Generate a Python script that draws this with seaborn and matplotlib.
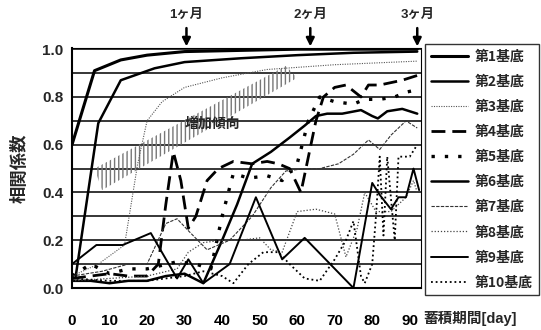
import numpy as np
import pandas as pd
import matplotlib
matplotlib.use("Agg")
import matplotlib.pyplot as plt
import seaborn as sns
from matplotlib.patches import Polygon

# correlation coefficient vs. accumulation period, per base
labels = ["第1基底", "第2基底", "第3基底", "第4基底", "第5基底",
          "第6基底", "第7基底", "第8基底", "第9基底", "第10基底"]

s1_days = [0, 6, 13, 20, 30, 45, 60, 75, 92]
s1_vals = [0.60, 0.91, 0.955, 0.975, 0.99, 0.995, 1.0, 1.0, 1.0]

s2_days = [1, 7, 13, 22, 30, 45, 60, 75, 92]
s2_vals = [0.05, 0.69, 0.87, 0.92, 0.946, 0.962, 0.975, 0.985, 0.99]

s3_days = [0, 7, 14, 17.5, 20, 24, 30, 40, 52, 70, 92]
s3_vals = [0.05, 0.10, 0.18, 0.52, 0.70, 0.78, 0.84, 0.88, 0.915, 0.935, 0.95]

s4_days = [0, 5, 10, 15, 20, 23, 25, 27, 29, 31, 33, 36, 39, 43, 48, 52, 55, 58, 61,
           63, 65, 67, 70, 73, 77, 79, 82, 85, 88, 92]
s4_vals = [0.04, 0.05, 0.06, 0.05, 0.05, 0.10, 0.35, 0.57, 0.45, 0.25, 0.30, 0.45, 0.50,
           0.53, 0.52, 0.53, 0.52, 0.50, 0.40, 0.55, 0.70, 0.80, 0.84, 0.85, 0.80, 0.85,
           0.85, 0.86, 0.87, 0.89]

s5_days = [0, 5, 10, 15, 20, 28, 33, 37, 40, 43, 47, 52, 56, 60, 63, 66, 70, 75, 78,
           82, 86, 89, 92]
s5_vals = [0.05, 0.10, 0.06, 0.08, 0.08, 0.11, 0.10, 0.08, 0.30, 0.48, 0.46, 0.47, 0.45,
           0.52, 0.70, 0.80, 0.78, 0.77, 0.79, 0.79, 0.80, 0.82, 0.83]

s6_days = [0, 5, 10, 15, 20, 25, 30, 35, 40, 44, 48, 53, 58, 62, 65, 68, 72, 77, 80,
           81.5, 84, 88, 92]
s6_vals = [0.03, 0.03, 0.02, 0.03, 0.03, 0.05, 0.06, 0.02, 0.20, 0.35, 0.52, 0.57, 0.63,
           0.68, 0.72, 0.73, 0.73, 0.745, 0.72, 0.71, 0.74, 0.75, 0.73]

s7_days = [0, 8, 15, 20, 25, 28, 31, 36, 42, 48, 53, 57, 62, 66, 71, 75, 79, 82, 85,
           89, 92]
s7_vals = [0.05, 0.07, 0.10, 0.10, 0.27, 0.29, 0.24, 0.16, 0.20, 0.30, 0.42, 0.49, 0.50,
           0.50, 0.52, 0.56, 0.62, 0.58, 0.64, 0.70, 0.67]

s8_days = [0, 10, 20, 28, 31, 35, 40, 45, 50, 53, 56, 60, 65, 70, 73, 76, 78, 81, 85,
           89, 91, 92]
s8_vals = [0.03, 0.04, 0.05, 0.08, 0.15, 0.19, 0.20, 0.20, 0.21, 0.16, 0.15, 0.32, 0.33,
           0.31, 0.13, 0.25, 0.40, 0.32, 0.32, 0.38, 0.45, 0.40]

s9_days = [0, 6.5, 13.5, 21, 28, 31, 35, 42, 49, 56, 62, 75, 80, 82, 85, 87, 89, 91, 92.5]
s9_vals = [0.10, 0.18, 0.18, 0.23, 0.04, 0.12, 0.02, 0.10, 0.38, 0.12, 0.21, 0.0, 0.44,
           0.39, 0.33, 0.38, 0.38, 0.50, 0.41]

s10_days = [0, 10, 20, 30, 35, 40, 43, 47, 51, 55, 58, 62, 66, 70, 73, 75, 77, 78, 80,
            81, 82, 83, 84, 86, 87, 90, 92]
s10_vals = [0.04, 0.03, 0.03, 0.05, 0.07, 0.05, 0.02, 0.10, 0.15, 0.15, 0.10, 0.04, 0.03,
            0.12, 0.20, 0.28, 0.05, 0.02, 0.10, 0.30, 0.55, 0.22, 0.55, 0.20, 0.55, 0.55,
            0.60]

all_days = [s1_days, s2_days, s3_days, s4_days, s5_days,
            s6_days, s7_days, s8_days, s9_days, s10_days]
all_vals = [s1_vals, s2_vals, s3_vals, s4_vals, s5_vals,
            s6_vals, s7_vals, s8_vals, s9_vals, s10_vals]

# month markers on top
month_labels = ["1ヶ月", "2ヶ月", "3ヶ月"]
month_days = [30.5, 63.5, 92]

x_ticks = list(range(0, 91, 10))
y_ticks = [0.0, 0.2, 0.4, 0.6, 0.8, 1.0]

sns.set_style("white")
plt.rcParams['font.family'] = ['Liberation Sans', 'Noto Sans CJK JP', 'DejaVu Sans']
plt.rcParams['font.weight'] = 'bold'

# line look per series: (color, width, dash pattern)
styles = [
    ("black", 2.2, "-"),
    ("black", 1.8, "-"),
    ("#555555", 0.8, (0, (1, 1.2))),
    ("black", 2.0, (0, (5, 2.5))),
    ("black", 2.4, (0, (1, 3))),
    ("black", 1.8, "-"),
    ("#333333", 0.8, (0, (3, 1.2))),
    ("#444444", 0.9, (0, (1, 1.5))),
    ("black", 1.4, "-"),
    ("black", 1.3, (0, (1, 1.6))),
]

fig = plt.figure(figsize=(5.41, 3.30), dpi=100)
ax = fig.add_axes([72 / 541, 1 - 288 / 330, (421 - 72) / 541, 240 / 330])

# "increasing tendency" hatched band
band = Polygon([(8, 0.41), (6, 0.50), (57, 0.93), (60, 0.88)], closed=True,
               facecolor="none", edgecolor="#777777", hatch="||||", linewidth=0)
ax.add_patch(band)
ax.text(37.5, 0.69, "増加傾向", fontsize=10, fontweight="bold", ha="center", va="center",
        family=['Noto Sans CJK JP'])

for d, v, lab, (c, lw, ls) in zip(all_days, all_vals, labels, styles):
    df = pd.DataFrame({"day": d, "r": v})
    sns.lineplot(data=df, x="day", y="r", ax=ax, color=c, linewidth=lw,
                 linestyle=ls, label=lab)

ax.set_xlim(0, 93)
ax.set_ylim(0, 1.005)
ax.set_xticks(x_ticks)
ax.set_yticks(y_ticks)
ax.set_yticks(np.arange(0.1, 1.0, 0.2), minor=True)
ax.set_xticklabels([str(t) for t in x_ticks], fontsize=11, fontweight="bold")
ax.set_yticklabels([f"{t:.1f}" for t in y_ticks], fontsize=11, fontweight="bold")
ax.tick_params(axis="x", direction="in", length=3, pad=19, colors="black")
ax.tick_params(axis="y", length=0, pad=6)
ax.tick_params(axis="y", which="minor", length=0)
ax.grid(axis="y", which="both", color="black", linewidth=1.1)
ax.set_xlabel("")
ax.set_ylabel("相関係数", fontsize=12.5, fontweight="bold", labelpad=10,
              family=['Noto Sans CJK JP'])

for side in ["left", "bottom"]:
    ax.spines[side].set_color("black")
    ax.spines[side].set_linewidth(1.5)
ax.spines["right"].set_linestyle((0, (1, 1)))
ax.spines["right"].set_color("black")
ax.spines["top"].set_linestyle((0, (1, 1)))
ax.spines["top"].set_color("black")

for lab, d in zip(month_labels, month_days):
    ax.annotate("", xy=(d, 1.0), xytext=(d, 1.10), annotation_clip=False,
                arrowprops=dict(arrowstyle="-|>", color="black", lw=1.8,
                                mutation_scale=12))
    ax.text(d, 1.12, lab, ha="center", va="bottom", fontsize=9.5, fontweight="bold",
            clip_on=False)

fig.text(423 / 541, 1 - 319 / 330, "蓄積期間[day]", fontsize=10.5, fontweight="bold",
         va="center", ha="left")

handles, labs = ax.get_legend_handles_labels()
ax.get_legend().remove()
leg = fig.legend(handles, labs, loc="upper left", bbox_to_anchor=(425 / 541, 1 - 44 / 330),
                 frameon=True, fancybox=False, edgecolor="black", fontsize=10,
                 handlelength=2.7, labelspacing=0.8, borderpad=0.4, handletextpad=0.5,
                 borderaxespad=0)
leg.get_frame().set_linewidth(1.0)
for t in leg.get_texts():
    t.set_fontweight("bold")
    t.set_family(['Noto Sans CJK JP'])

fig.savefig("out.png", dpi=100)
